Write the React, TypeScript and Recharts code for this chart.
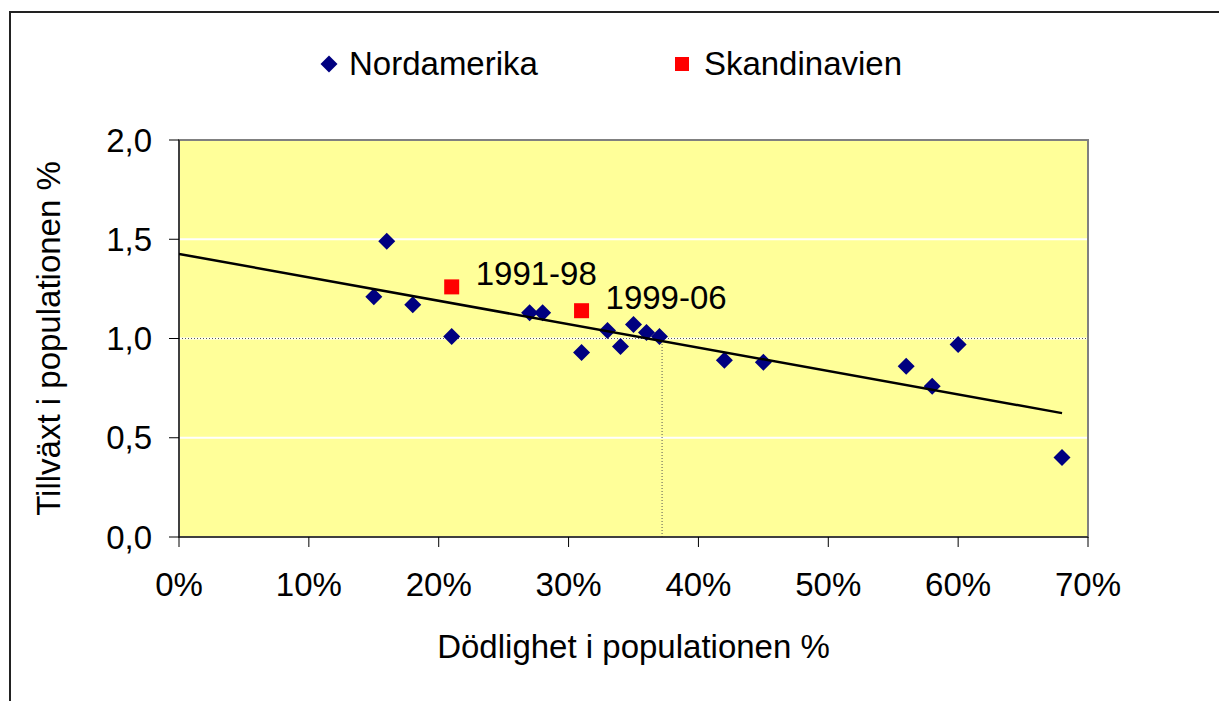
import React from 'react'
import {
  ScatterChart, Scatter, XAxis, YAxis, CartesianGrid, ReferenceLine, ReferenceArea,
  Legend, Label, LabelList,
} from 'recharts'

// Nordamerika (dödlighet %, tillväxt)
const northX = [15, 16, 18, 21, 27, 28, 31, 33, 34, 35, 36, 37, 42, 45, 56, 58, 60, 68]
const northY = [1.21, 1.49, 1.17, 1.01, 1.13, 1.13, 0.93, 1.04, 0.96, 1.07, 1.03, 1.01, 0.89, 0.88, 0.86, 0.76, 0.97, 0.4]

// Skandinavien
const scanX = [21, 31]
const scanY = [1.26, 1.14]
const scanLabels = ['1991-98', '1999-06']

// linear trend line (ends)
const trendX = [0, 68]
const trendY = [1.426, 0.624]

// dotted marker: growth 1,0 reached at this mortality
const breakEvenX = 37.2
const breakEvenY = 1.0

const xTicks = [0, 10, 20, 30, 40, 50, 60, 70]
const yTicks = [0, 0.5, 1.0, 1.5, 2.0]

const north = northX.map((x, i) => ({ x, y: northY[i] }))
const scan = scanX.map((x, i) => ({ x, y: scanY[i], label: scanLabels[i] }))
const trend = trendX.map((x, i) => ({ x, y: trendY[i] }))

const FONT = '"Liberation Sans", Arial, Helvetica, sans-serif'
const NAVY = '#000080'
const RED = '#FF0000'

function Diamond(props: any) {
  const { cx, cy, fill } = props
  const r = 8.5
  return <polygon points={`${cx},${cy - r} ${cx + r},${cy} ${cx},${cy + r} ${cx - r},${cy}`} fill={fill} />
}

function Square(props: any) {
  const { cx, cy, fill } = props
  const s = 7.5
  return <rect x={cx - s} y={cy - s} width={s * 2} height={s * 2} fill={fill} />
}

function YearLabel(props: any) {
  const { x, y, width, height, value } = props
  const cx = x + width / 2
  const cy = y + height / 2
  return (
    <text x={cx + 24} y={cy - 2} fontSize={33} fontFamily={FONT} fill="#000">
      {value}
    </text>
  )
}

function LegendContent(props: any) {
  const items = (props.payload || []).filter((p: any) => p.type !== 'none')
  return (
    <div style={{ display: 'flex', alignItems: 'center', paddingLeft: 320, fontFamily: FONT, fontSize: 33 }}>
      {items.map((p: any, i: number) => (
        <div key={p.value} style={{ display: 'flex', alignItems: 'center', marginLeft: i === 0 ? 0 : 137 }}>
          <svg width={p.type === 'diamond' ? 18 : 14} height={18} style={{ marginRight: p.type === 'diamond' ? 11 : 15 }}>
            {p.type === 'diamond'
              ? <polygon points="9,0.5 17.5,9 9,17.5 0.5,9" fill={p.color} />
              : <rect x={0} y={2} width={14} height={14} fill={p.color} />}
          </svg>
          <span style={{ lineHeight: '38px' }}>{p.value}</span>
        </div>
      ))}
    </div>
  )
}

export default function App() {
  return (
    <div style={{ position: 'absolute', left: 0, top: 0, width: 1219, height: 701, background: '#fff', overflow: 'hidden' }}>
      <div style={{ position: 'absolute', left: 9, top: 11, width: 1300, height: 800, border: '2px solid #222' }} />
      <ScatterChart
        width={1219}
        height={701}
        margin={{ top: 140, right: 131, bottom: 0, left: 0 }}
        style={{ position: 'absolute', left: 0, top: 0, fontFamily: FONT }}
      >
        <CartesianGrid vertical={false} stroke="#fff" strokeWidth={2} fill="#FFFF99" fillOpacity={1} />
        <ReferenceArea x1={0} x2={70} y1={0} y2={2} fill="none" stroke="#808080" strokeWidth={2} ifOverflow="visible" />
        <XAxis
          type="number"
          dataKey="x"
          domain={[0, 70]}
          ticks={xTicks}
          tickFormatter={(v: number) => `${v}%`}
          height={164}
          tickSize={10}
          tickMargin={26}
          stroke="#000"
          tick={{ fill: '#000', fontSize: 33, fontFamily: FONT }}
          allowDataOverflow
        >
          <Label value="Dödlighet i populationen %" position="insideBottom" offset={43} fill="#000" fontSize={33} fontFamily={FONT} />
        </XAxis>
        <YAxis
          type="number"
          dataKey="y"
          domain={[0, 2]}
          ticks={yTicks}
          tickFormatter={(v: number) => v.toFixed(1).replace('.', ',')}
          width={179}
          tickSize={10}
          tickMargin={17}
          stroke="#000"
          tick={{ fill: '#000', fontSize: 33, fontFamily: FONT }}
          allowDataOverflow
        >
          <Label
            value="Tillväxt i populationen %"
            position="insideLeft"
            angle={-90}
            offset={48}
            fill="#000"
            fontSize={33}
            fontFamily={FONT}
            style={{ textAnchor: 'middle' }}
          />
        </YAxis>
        <ReferenceLine y={breakEvenY} stroke="#555" strokeWidth={1} strokeDasharray="1 2" />
        <ReferenceLine
          segment={[{ x: breakEvenX, y: 0 }, { x: breakEvenX, y: breakEvenY }]}
          stroke="#555"
          strokeWidth={1}
          strokeDasharray="1 2"
        />
        <Legend
          layout="horizontal"
          align="center"
          verticalAlign="middle"
          wrapperStyle={{ top: 45, left: 0, width: 1219 }}
          content={<LegendContent />}
        />
        <Scatter name="Nordamerika" data={north} fill={NAVY} shape={<Diamond />} legendType="diamond" isAnimationActive={false} />
        <Scatter name="Skandinavien" data={scan} fill={RED} shape={<Square />} legendType="square" isAnimationActive={false}>
          <LabelList dataKey="label" content={<YearLabel />} />
        </Scatter>
        <Scatter
          name="Trend"
          data={trend}
          fill="none"
          line={{ stroke: '#000', strokeWidth: 2.5 }}
          shape={() => null}
          legendType="none"
          isAnimationActive={false}
        />
      </ScatterChart>
    </div>
  )
}
